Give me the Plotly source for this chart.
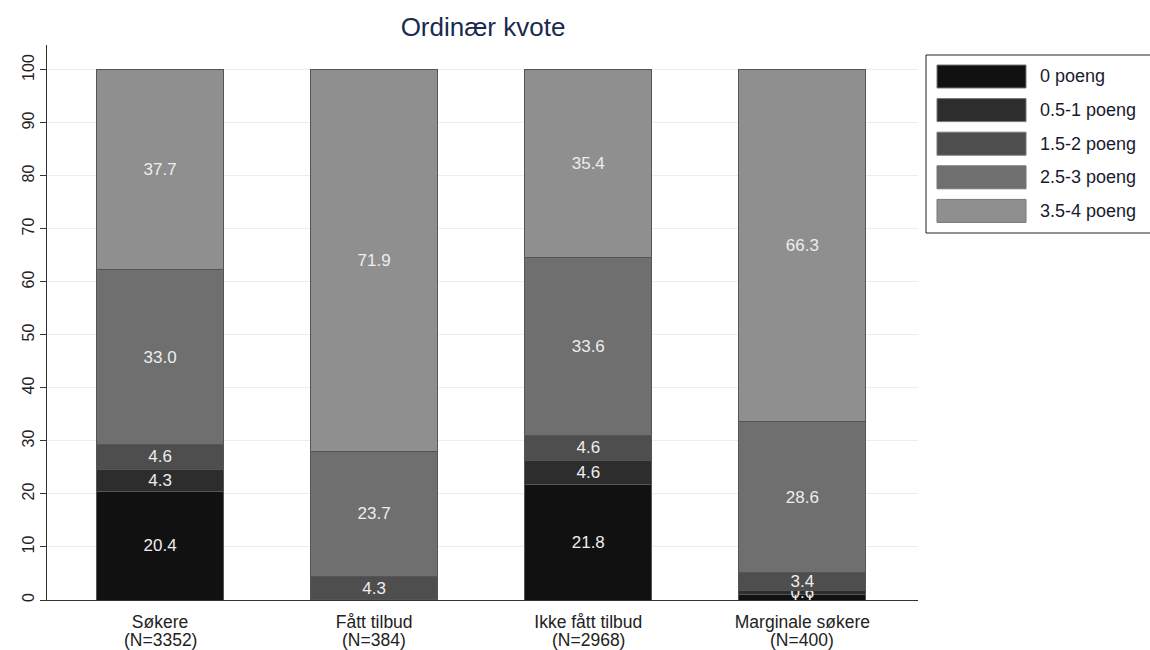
import plotly.graph_objects as go

categories = ["Søkere", "Fått tilbud", "Ikke fått tilbud", "Marginale søkere"]
n_labels = ["(N=3352)", "(N=384)", "(N=2968)", "(N=400)"]
series_names = ["0 poeng", "0.5-1 poeng", "1.5-2 poeng", "2.5-3 poeng", "3.5-4 poeng"]
p0 = [20.4, 0.0, 21.8, 1.1]
p05_1 = [4.3, 0.1, 4.6, 0.6]
p15_2 = [4.6, 4.3, 4.6, 3.4]
p25_3 = [33.0, 23.7, 33.6, 28.6]
p35_4 = [37.7, 71.9, 35.4, 66.3]
y_ticks = [0, 10, 20, 30, 40, 50, 60, 70, 80, 90, 100]

series_values = [p0, p05_1, p15_2, p25_3, p35_4]
colors = ["#111111", "#2d2d2d", "#4e4e4e", "#6f6f6f", "#8f8f8f"]
FONT = "Liberation Sans, Arial, sans-serif"

# plot area in pixels: x 47..918, y 45..600
PX0, PX1, PY0, PY1 = 47, 918, 45, 600
def px(x):
    return (x - PX0) / (PX1 - PX0)
def py(y):
    return (PY1 - y) / (PY1 - PY0)

fig = go.Figure()
for name, vals, col in zip(series_names, series_values, colors):
    fig.add_trace(go.Bar(
        name=name, x=categories, y=vals,
        marker=dict(color=col, line=dict(color="#555555", width=1)),
        width=0.593,
        texttemplate="%{y:.1f}", textposition="inside", insidetextanchor="middle",
        textangle=0, constraintext="none",
        textfont=dict(color="#ededed", size=17, family=FONT),
        showlegend=False,
    ))

# second line of category labels
for cat, nl in zip(categories, n_labels):
    fig.add_annotation(xref="x", yref="paper", x=cat, y=py(640), text=nl,
                       showarrow=False, xanchor="center", yanchor="middle",
                       font=dict(size=17.5, color="#222222", family=FONT))

# manual legend
for i, (name, col) in enumerate(zip(series_names, colors)):
    yc = 76.5 + 33.6 * i
    fig.add_shape(type="rect", xref="paper", yref="paper",
                  x0=px(937), x1=px(1026), y0=py(yc + 11.5), y1=py(yc - 11.5),
                  fillcolor=col, line=dict(color="#777777", width=1))
    fig.add_annotation(xref="paper", yref="paper", x=px(1038), y=py(yc), text=name,
                       showarrow=False, xanchor="left", yanchor="middle",
                       font=dict(size=18, color="#1a1a2e", family=FONT))
fig.add_shape(type="rect", xref="paper", yref="paper",
              x0=px(926), x1=px(1152), y0=py(233), y1=py(55),
              fillcolor="rgba(0,0,0,0)", line=dict(color="#222222", width=1))

fig.update_layout(
    barmode="stack",
    width=1150, height=650,
    margin=dict(l=PX0, r=1150 - PX1, t=PY0, b=650 - PY1),
    paper_bgcolor="white", plot_bgcolor="white",
    title=dict(text="Ordinær kvote", x=0.42, xanchor="center", y=0.958, yanchor="middle",
               font=dict(size=26, color="#1a2a4f", family=FONT)),
    font=dict(family=FONT, color="#222222"),
    xaxis=dict(range=[-0.528, 3.54], showline=True, linecolor="#333333", linewidth=1,
               ticks="", tickfont=dict(size=17.5, color="#222222"), showgrid=False,
               automargin=False, ticklabelstandoff=6),
    yaxis=dict(range=[0, 104.7], tickvals=y_ticks, tickangle=-90, ticks="outside",
               ticklen=6, tickcolor="#333333", showline=True, linecolor="#333333",
               linewidth=1, gridcolor="#e6eff1", gridwidth=1, automargin=False,
               tickfont=dict(size=16, color="#222222"), zeroline=False),
)

fig.write_html("out.html", config={"displayModeBar": False},
               post_script="document.body.style.margin='0';document.body.style.overflow='hidden';")
